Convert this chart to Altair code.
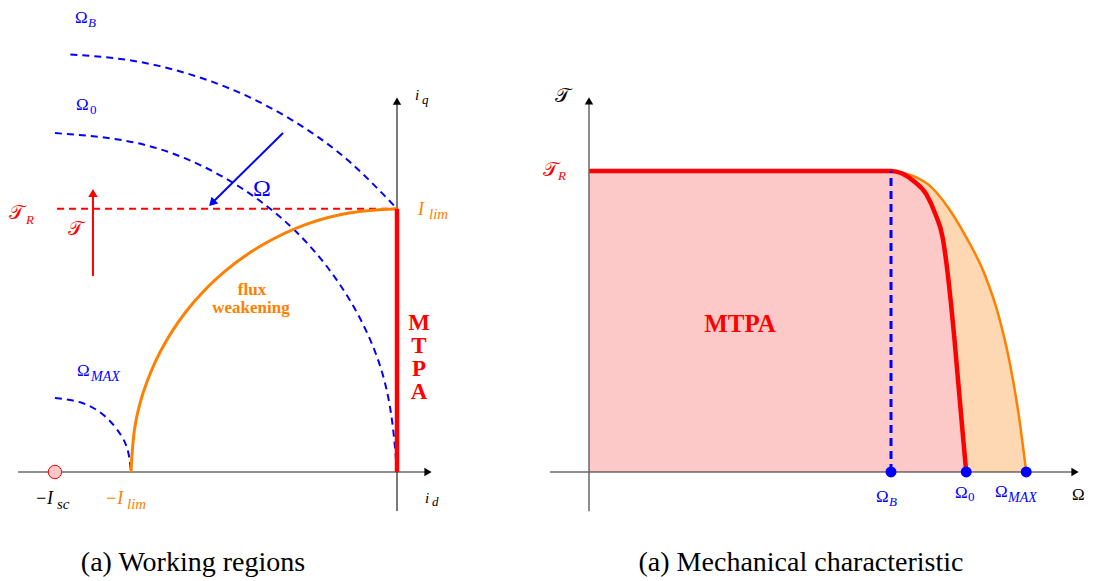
import altair as alt
import pandas as pd

FONT = "Liberation Serif"
BLUE = "#0000ff"
RED = "#ff0000"
ORANGE = "#ff8000"
SCR_T = "\U0001D4AF"  # script T

# ---------------- Left panel data (id-iq plane, units of I_lim) ----------------
ilim_id = [-1.0, -0.985, -0.940, -0.866, -0.766, -0.643, -0.5, -0.342, -0.174, 0.0]
ilim_iq = [0.0, 0.172, 0.339, 0.495, 0.636, 0.758, 0.857, 0.931, 0.975, 0.99]

omB_id = [-1.228, -0.999, -0.775, -0.561, -0.361, -0.179, 0.0]
omB_iq = [1.570, 1.547, 1.494, 1.412, 1.302, 1.167, 0.99]

om0_id = [-1.286, -0.953, -0.643, -0.377, -0.172, -0.044, 0.0]
om0_iq = [1.274, 1.231, 1.103, 0.901, 0.637, 0.330, 0.0]

omMax_id = [-1.286, -1.188, -1.102, -1.038, -1.010, -1.0]
omMax_iq = [0.278, 0.261, 0.213, 0.139, 0.072, 0.0]

tauR_level = 0.99
tauR_id = [-1.278, 0.0]
isc_id = -1.286
id_axis = [-1.425, 0.12]
iq_axis = [-0.147, 1.40]
torque_arrow_id = -1.143
torque_arrow_iq = [0.737, 1.04]
omega_arrow_id = [-0.4286, -0.6955]
omega_arrow_iq = [1.2744, 1.0113]

mtpa_letters = ["M", "T", "P", "A"]
mtpa_iq = [0.5602, 0.4737, 0.3872, 0.3008]
mtpa_id = 0.0827

# ---------------- Right panel data (mechanical characteristic) ----------------
red_W = [0.0, 1.0, 1.0746, 1.1167, 1.1468, 1.1709, 1.1865, 1.1986, 1.2094, 1.2190, 1.2286, 1.2383, 1.249]
red_T = [1.0, 1.0, 0.967, 0.9229, 0.8568, 0.7797, 0.6696, 0.5595, 0.4493, 0.3392, 0.2291, 0.1189, 0.0]

orange_W = [0.0, 1.0, 1.0806, 1.1288, 1.1889, 1.2491, 1.3093, 1.3574, 1.3935, 1.4236, 1.4477]
orange_T = [1.0, 1.0, 0.9802, 0.9504, 0.8789, 0.7797, 0.6586, 0.5154, 0.3612, 0.185, 0.0]

omega_pts = [1.0, 1.249, 1.4477]
W_axis = [-0.129, 1.61]
T_axis = [-0.13, 1.23]

# scales
xl = alt.Scale(domain=[-1.4624, 0.3045], nice=False, zero=False)
yl = alt.Scale(domain=[-0.2519, 1.7406], nice=False, zero=False)
xr = alt.Scale(domain=[-0.1954, 1.6589], nice=False, zero=False)
yr = alt.Scale(domain=[-0.2226, 1.5382], nice=False, zero=False)


def XY(sx, sy):
    return dict(x=alt.X("x:Q", scale=sx, axis=None), y=alt.Y("y:Q", scale=sy, axis=None))


def curve(xv, yv, sx, sy, color, width, dash=None, interp="natural"):
    df = pd.DataFrame({"x": xv, "y": yv, "i": list(range(len(xv)))})
    kw = dict(color=color, strokeWidth=width, interpolate=interp, strokeCap="butt")
    if dash:
        kw["strokeDash"] = dash
    return alt.Chart(df).mark_line(**kw).encode(order="i:Q", **XY(sx, sy))


def head(xv, yv, sx, sy, color, shape, size=70, angle=None):
    df = pd.DataFrame({"x": [xv], "y": [yv]})
    kw = dict(shape=shape, filled=True, color=color, size=size, opacity=1)
    if angle is not None:
        kw["angle"] = angle
    return alt.Chart(df).mark_point(**kw).encode(**XY(sx, sy))


def txt(xv, yv, s, sx, sy, color, size=17, style="normal", weight="normal",
        align="left", dx=0, dy=0):
    df = pd.DataFrame({"x": [xv], "y": [yv], "t": [s]})
    return alt.Chart(df).mark_text(
        align=align, baseline="middle", color=color, fontSize=size,
        fontStyle=style, fontWeight=weight, font=FONT, dx=dx, dy=dy
    ).encode(text="t:N", **XY(sx, sy))


def sublabel(xv, yv, main, sub, sx, sy, color, subdx, subdy, size=17, subsize=13,
             mainstyle="normal", substyle="italic"):
    return [txt(xv, yv, main, sx, sy, color, size=size, style=mainstyle),
            txt(xv, yv, sub, sx, sy, color, size=subsize, style=substyle, dx=subdx, dy=subdy)]


# ---------------- Left panel ----------------
L = []
L.append(curve(tauR_id, [tauR_level, tauR_level], xl, yl, RED, 2, dash=[7, 5], interp="linear"))
L.append(curve(omB_id, omB_iq, xl, yl, BLUE, 2, dash=[7, 5]))
L.append(curve(om0_id, om0_iq, xl, yl, BLUE, 2, dash=[7, 5]))
L.append(curve(omMax_id, omMax_iq, xl, yl, BLUE, 2, dash=[7, 5]))
L.append(curve(id_axis, [0, 0], xl, yl, "#222222", 1.2, interp="linear"))
L.append(curve([0, 0], iq_axis, xl, yl, "#222222", 1.2, interp="linear"))
L.append(head(0.1165, 0.0, xl, yl, "#000000", "triangle-right"))
L.append(head(0.0, 1.3947, xl, yl, "#000000", "triangle-up"))
L.append(curve(ilim_id, ilim_iq, xl, yl, ORANGE, 3))
L.append(curve([0, 0], [0, tauR_level], xl, yl, RED, 4.5, interp="linear"))
L.append(alt.Chart(pd.DataFrame({"x": [isc_id], "y": [0.0]})).mark_point(
    shape="circle", filled=True, fill="#fcc8c8", stroke=RED, strokeWidth=1, size=180, opacity=1
).encode(**XY(xl, yl)))
L.append(curve([torque_arrow_id, torque_arrow_id], torque_arrow_iq, xl, yl, RED, 2, interp="linear"))
L.append(head(torque_arrow_id, 1.0489, xl, yl, RED, "triangle-up", size=90))
L.append(curve(omega_arrow_id, omega_arrow_iq, xl, yl, BLUE, 2, interp="linear"))
L.append(head(-0.6955, 1.0113, xl, yl, BLUE, "triangle-up", size=90, angle=225))

L += sublabel(-1.2105, 1.708, "\u03a9", "B", xl, yl, BLUE, 13, 5)
L += sublabel(-1.2068, 1.3797, "\u03a9", "0", xl, yl, BLUE, 14, 5, substyle="normal")
L += sublabel(-1.203, 0.3797, "\u03a9", "MAX", xl, yl, BLUE, 14, 6, subsize=14)
L += sublabel(-1.459, 0.9737, SCR_T, "R", xl, yl, RED, 17, 7, size=20)
L.append(txt(-1.2368, 0.9135, SCR_T, xl, yl, RED, size=20))
L.append(txt(-0.5414, 1.0639, "\u03a9", xl, yl, BLUE, size=24))
L += sublabel(0.0789, 0.985, "I", "lim", xl, yl, ORANGE, 11, 4, size=18, subsize=15, mainstyle="italic")
L += sublabel(0.0677, 1.417, "i", "q", xl, yl, "#000000", 7, 5, size=15, mainstyle="italic")
L += sublabel(0.1053, -0.0977, "i", "d", xl, yl, "#000000", 7, 4, size=15, mainstyle="italic")
L += sublabel(-1.361, -0.1015, "\u2212I", "sc", xl, yl, "#000000", 22, 5, size=18, subsize=15, mainstyle="italic")
L += sublabel(-1.0977, -0.1015, "\u2212I", "lim", xl, yl, ORANGE, 22, 5, size=18, subsize=15, mainstyle="italic")
L.append(txt(-0.545, 0.6842, "flux", xl, yl, ORANGE, size=17, weight="bold", align="center"))
L.append(txt(-0.549, 0.6165, "weakening", xl, yl, ORANGE, size=17, weight="bold", align="center"))
L.append(alt.Chart(pd.DataFrame({"x": [mtpa_id] * 4, "y": mtpa_iq, "t": mtpa_letters})).mark_text(
    align="center", baseline="middle", color=RED, fontSize=23, fontWeight="bold", font=FONT
).encode(text="t:N", **XY(xl, yl)))

left = alt.layer(*L).properties(
    width=470, height=530,
    title=alt.TitleParams("(a) Working regions", orient="bottom", anchor="middle", dx=-50,
                          offset=10, fontSize=28, font=FONT, fontWeight="normal",
                          color="black", baseline="top"))

# ---------------- Right panel ----------------
R = []
R.append(alt.Chart(pd.DataFrame({"x": orange_W, "y": orange_T})).mark_area(
    color="#fdd8b3", interpolate="monotone", opacity=1
).encode(y2=alt.datum(0), **XY(xr, yr)))
R.append(alt.Chart(pd.DataFrame({"x": red_W, "y": red_T})).mark_area(
    color="#fcc8c8", interpolate="monotone", opacity=1
).encode(y2=alt.datum(0), **XY(xr, yr)))
R.append(curve(orange_W[1:], orange_T[1:], xr, yr, ORANGE, 2.5, interp="monotone"))
R.append(curve(red_W, red_T, xr, yr, RED, 4.5, interp="monotone"))
R.append(curve([1.0, 1.0], [0.0, 1.0], xr, yr, BLUE, 3, dash=[8, 5], interp="linear"))
R.append(curve(W_axis, [0, 0], xr, yr, "#222222", 1.2, interp="linear"))
R.append(curve([0, 0], T_axis, xr, yr, "#666666", 1.5, interp="linear"))
R.append(head(1.6093, 0.0, xr, yr, "#000000", "triangle-right"))
R.append(head(0.0, 1.2326, xr, yr, "#000000", "triangle-up"))
R.append(alt.Chart(pd.DataFrame({"x": omega_pts, "y": [0.0] * 3})).mark_point(
    shape="circle", filled=True, color=BLUE, size=120, opacity=1
).encode(**XY(xr, yr)))

R.append(txt(-0.1126, 1.249, SCR_T, xr, yr, "#000000", size=20))
R += sublabel(-0.1523, 1.0033, SCR_T, "R", xr, yr, RED, 15, 6, size=20)
R.append(txt(0.5, 0.4917, "MTPA", xr, yr, RED, size=25, weight="bold", align="center"))
R += sublabel(0.9503, -0.083, "\u03a9", "B", xr, yr, BLUE, 13, 5)
R += sublabel(1.2119, -0.0698, "\u03a9", "0", xr, yr, BLUE, 13, 4, substyle="normal")
R += sublabel(1.3444, -0.0664, "\u03a9", "MAX", xr, yr, BLUE, 13, 6, subsize=14)
R.append(txt(1.5993, -0.0764, "\u03a9", xr, yr, "#000000"))

right = alt.layer(*R).properties(
    width=560, height=530,
    title=alt.TitleParams("(a) Mechanical characteristic", orient="bottom", anchor="middle",
                          dx=-9, offset=10, fontSize=28, font=FONT, fontWeight="normal",
                          color="black", baseline="top"))

chart = alt.hconcat(left, right, spacing=52).properties(padding=0).configure_view(stroke=None)
chart.save("out.html", embed_options={"renderer": "svg", "actions": False})
